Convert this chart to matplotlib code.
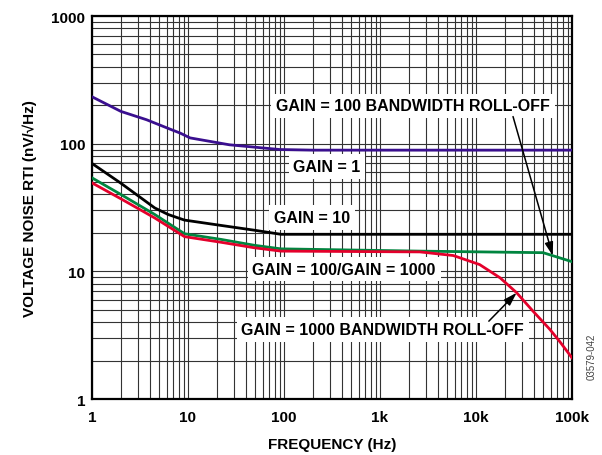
import matplotlib
matplotlib.use("Agg")
import matplotlib.pyplot as plt
import numpy as np
from matplotlib.ticker import FixedLocator, LogLocator, NullFormatter

plt.rcParams["font.family"] = ["Liberation Sans", "DejaVu Sans"]
plt.rcParams["font.weight"] = "bold"

# voltage noise RTI (nV/rtHz) vs frequency for each gain setting
freq_g1 = [1, 2, 3.7, 6.5, 8.3, 10.5, 27, 90, 200, 100000]
noise_g1 = [233, 179, 154, 130, 121, 111, 98, 90, 89, 89]

freq_g10 = [1, 2, 4.5, 6.2, 7.9, 9.2, 22, 49, 93, 100000]
noise_g10 = [70, 49, 31.4, 27.9, 26.2, 25.2, 22.9, 21.0, 19.5, 19.5]

freq_g100 = [1, 2, 4.5, 9.2, 22, 49, 93, 2600, 50000, 100000]
noise_g100 = [54, 40, 27.9, 19.7, 17.8, 16.0, 15.0, 14.4, 14.0, 11.9]

freq_g1000 = [1, 2, 4.5, 9.2, 22, 49, 93, 2600, 5800, 10900, 17800,
              26500, 39000, 59000, 75000, 100000]
noise_g1000 = [49.3, 37, 26.2, 18.7, 16.9, 15.3, 14.4, 14.2, 13.3, 11.3,
               8.9, 6.8, 4.9, 3.5, 2.8, 2.1]

x_ticks = [1, 10, 100, 1000, 10000, 100000]
x_labels = ["1", "10", "100", "1k", "10k", "100k"]
y_ticks = [1, 10, 100, 1000]
y_labels = ["1", "10", "100", "1000"]


def log_interp(f, freqs, vals):
  return 10 ** np.interp(np.log10(f), np.log10(freqs), np.log10(vals))


fig = plt.figure(figsize=(6.02, 4.56), dpi=100)
ax = fig.add_axes([0.1528, 0.1228, 0.7974, 0.8399])

ax.plot(freq_g1, noise_g1, color="#3a0f8f", lw=2.0, zorder=3)
ax.plot(freq_g10, noise_g10, color="black", lw=2.0, zorder=3)
ax.plot(freq_g100, noise_g100, color="#00853f", lw=2.0, zorder=3)
ax.plot(freq_g1000, noise_g1000, color="#e4002b", lw=2.0, zorder=3)

ax.set_xscale("log")
ax.set_yscale("log")
ax.set_xlim(1, 100000)
ax.set_ylim(1, 1000)

ax.xaxis.set_major_locator(FixedLocator(x_ticks))
ax.set_xticklabels(x_labels)
ax.yaxis.set_major_locator(FixedLocator(y_ticks))
ax.set_yticklabels(y_labels)
ax.xaxis.set_minor_locator(LogLocator(base=10, subs=np.arange(2, 10)))
ax.yaxis.set_minor_locator(LogLocator(base=10, subs=np.arange(2, 10)))
ax.xaxis.set_minor_formatter(NullFormatter())
ax.yaxis.set_minor_formatter(NullFormatter())
ax.tick_params(which="both", length=0, labelsize=11)
ax.tick_params(axis="x", pad=8)
ax.tick_params(axis="y", pad=5)

ax.grid(which="both", color="#333333", lw=0.8, zorder=1)
for sp in ax.spines.values():
  sp.set_linewidth(1.6)

ax.set_xlabel("FREQUENCY (Hz)", fontsize=11, fontweight="bold", labelpad=9)
ax.set_ylabel("VOLTAGE NOISE RTI (nV/\u221aHz)", fontsize=11,
              fontweight="bold", labelpad=10)

box = dict(boxstyle="square,pad=0.3", fc="white", ec="none")
txt = dict(fontsize=11.5, fontweight="bold", ha="center", va="center",
           zorder=5, bbox=box)
arrow = dict(arrowstyle="-|>,head_length=0.8,head_width=0.25",
             color="black", lw=1.1, shrinkA=0, shrinkB=0)

ax.text(281, 66, "GAIN = 1", **txt)
ax.text(196, 26.4, "GAIN = 10", **txt)
ax.text(422, 10.4, "GAIN = 100/GAIN = 1000", **txt)

# roll-off callouts, arrows land on the curves themselves
f_tip = 63000
ax.text(2210, 198, "GAIN = 100 BANDWIDTH ROLL-OFF", **txt)
ax.annotate("", xy=(f_tip, log_interp(f_tip, freq_g100, noise_g100)),
            xytext=(24300, 163), arrowprops=arrow, zorder=6)

f_tip = 26500
ax.text(1070, 3.52, "GAIN = 1000 BANDWIDTH ROLL-OFF", **txt)
ax.annotate("", xy=(f_tip, log_interp(f_tip, freq_g1000, noise_g1000)),
            xytext=(13600, 4.07), arrowprops=arrow, zorder=6)

fig.text(0.982, 0.217, "03579-042", rotation=90, fontsize=7,
         fontweight="normal", color="#444444", ha="center", va="center")

fig.savefig("out.png", dpi=100)
